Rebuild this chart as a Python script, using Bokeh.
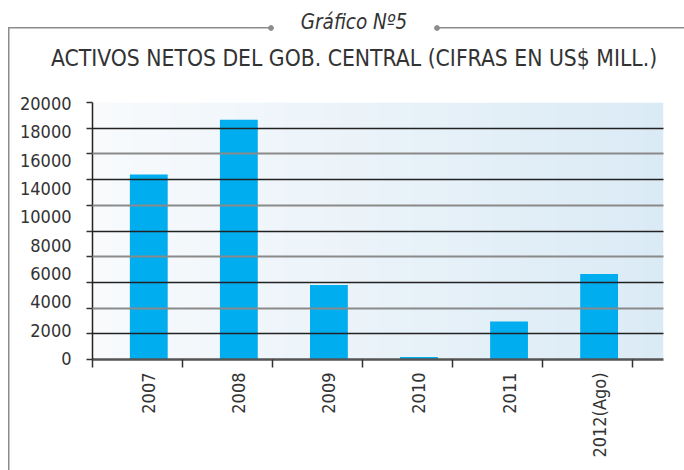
import numpy as np
from bokeh.plotting import figure
from bokeh.models import Range1d, LinearAxis, FixedTicker, Grid, Label
from bokeh.embed import file_html
from bokeh.resources import INLINE

# ---- data ----
years = ["2007", "2008", "2009", "2010", "2011", "2012(Ago)"]
values = [14400, 18650, 5800, 200, 2950, 6650]
y_tick_labels = ["0", "2000", "4000", "6000", "8000", "10000", "14000", "16000", "18000", "20000"]
grid_dark = [2000, 6000, 10000, 14000, 18000]
grid_gray = [4000, 8000, 12000, 16000, 20000]
grid_all = [0] + sorted(grid_dark + grid_gray)

FONT = "'DejaVu Sans Condensed', Roboto"
TXT = "#333333"

X_END = 6.34
OFF = 0.625
xs = [i + OFF for i in range(len(years))]

p = figure(width=684, height=470, output_backend="svg", toolbar_location=None,
           x_range=Range1d(0, X_END), y_range=Range1d(0, 20000),
           x_axis_type=None, y_axis_type=None,
           min_border_left=92, min_border_right=21, min_border_top=102, min_border_bottom=111)
p.outline_line_color = None
p.background_fill_color = None
p.border_fill_color = None

# header frame lines and dots, drawn as CSS background of the plot element
FR = "#8c8c8c"
line = f"linear-gradient({FR},{FR})"
dot = f"radial-gradient(circle, {FR} 2.4px, rgba(140,140,140,0) 3.2px)"
p.styles = {
    "background-color": "white",
    "background-image": ", ".join([line, line, line, dot, dot]),
    "background-position": "8.25px 27.25px, 8.25px 27.25px, 437px 27.25px, 267px 24px, 433px 24px",
    "background-size": "1.5px 450px, 263px 1.5px, 250px 1.5px, 8px 8px, 8px 8px",
    "background-repeat": "no-repeat",
}

# background gradient of the plot area (styling only)
n = 256
t = np.linspace(0, 1, n)[:, None]
c0 = np.array([249, 251, 253], dtype=float)
c1 = np.array([219, 235, 246], dtype=float)
img = np.empty((2, n), dtype=np.uint32)
view = img.view(dtype=np.uint8).reshape((2, n, 4))
for r in range(2):
    view[r, :, 0:3] = (c0 + (c1 - c0) * t).astype(np.uint8)
    view[r, :, 3] = 255
p.image_rgba(image=[img], x=0, y=0, dw=X_END, dh=20000, level="image")

# bars
p.vbar(x=xs, top=values, bottom=0, width=0.42, color="#00adef", line_color=None)

# grids (drawn over bars as in the original)
g1 = Grid(dimension=1, ticker=FixedTicker(ticks=grid_dark), grid_line_color="#222222",
          grid_line_width=1.3, level="annotation")
g2 = Grid(dimension=1, ticker=FixedTicker(ticks=grid_gray), grid_line_color="#8a8a8a",
          grid_line_width=2, level="annotation")
p.add_layout(g1)
p.add_layout(g2)

# y axis (ticks only, on data scale)
yax = LinearAxis(ticker=FixedTicker(ticks=grid_all),
                 major_label_overrides={v: "" for v in grid_all},
                 major_label_standoff=0, major_tick_out=6, major_tick_in=0,
                 major_tick_line_color="#333333", major_tick_line_width=1.3,
                 minor_tick_line_color=None, axis_line_color="#222222", axis_line_width=1.5)
p.add_layout(yax, "left")

# y tick labels as printed in the original (evenly spaced, own scale)
p.extra_y_ranges = {"lab": Range1d(-0.035, 9.035)}
lax = LinearAxis(y_range_name="lab", ticker=FixedTicker(ticks=list(range(len(y_tick_labels)))),
                 major_label_overrides={i: s for i, s in enumerate(y_tick_labels)},
                 axis_line_color=None, major_tick_line_color=None, minor_tick_line_color=None,
                 major_tick_out=0, major_tick_in=0,
                 major_label_text_font=FONT, major_label_text_font_size="18px",
                 major_label_text_color=TXT, major_label_standoff=15)
p.add_layout(lax, "left")

# x axis
xax = LinearAxis(ticker=FixedTicker(ticks=xs, minor_ticks=list(range(len(years) + 1))),
                 major_label_overrides={x: y for x, y in zip(xs, years)},
                 major_label_orientation=np.pi / 2,
                 major_tick_line_color=None, major_tick_out=8, major_tick_in=0,
                 minor_tick_out=8, minor_tick_in=0, minor_tick_line_color="#333333",
                 minor_tick_line_width=1.5, axis_line_color="#555555", axis_line_width=2.5,
                 major_label_text_font=FONT, major_label_text_font_size="18px",
                 major_label_text_color=TXT, major_label_standoff=5)
p.add_layout(xax, "below")

# header texts in the "above" panel
p.add_layout(Label(x=261.5, y=81, x_units="screen", y_units="screen", text="Gráfico Nº5",
                   text_font=FONT, text_font_style="italic", text_font_size="20.5px",
                   text_color=TXT, text_align="center", text_baseline="alphabetic"), "above")
p.add_layout(Label(x=261.5, y=20.4, x_units="screen", y_units="screen",
                   text="ACTIVOS NETOS DEL GOB. CENTRAL (CIFRAS EN US$ MILL.)",
                   text_font=FONT, text_font_size="22.7px",
                   text_color=TXT, text_align="center", text_baseline="alphabetic"), "above")

open("out.html", "w").write(file_html(p, INLINE))
